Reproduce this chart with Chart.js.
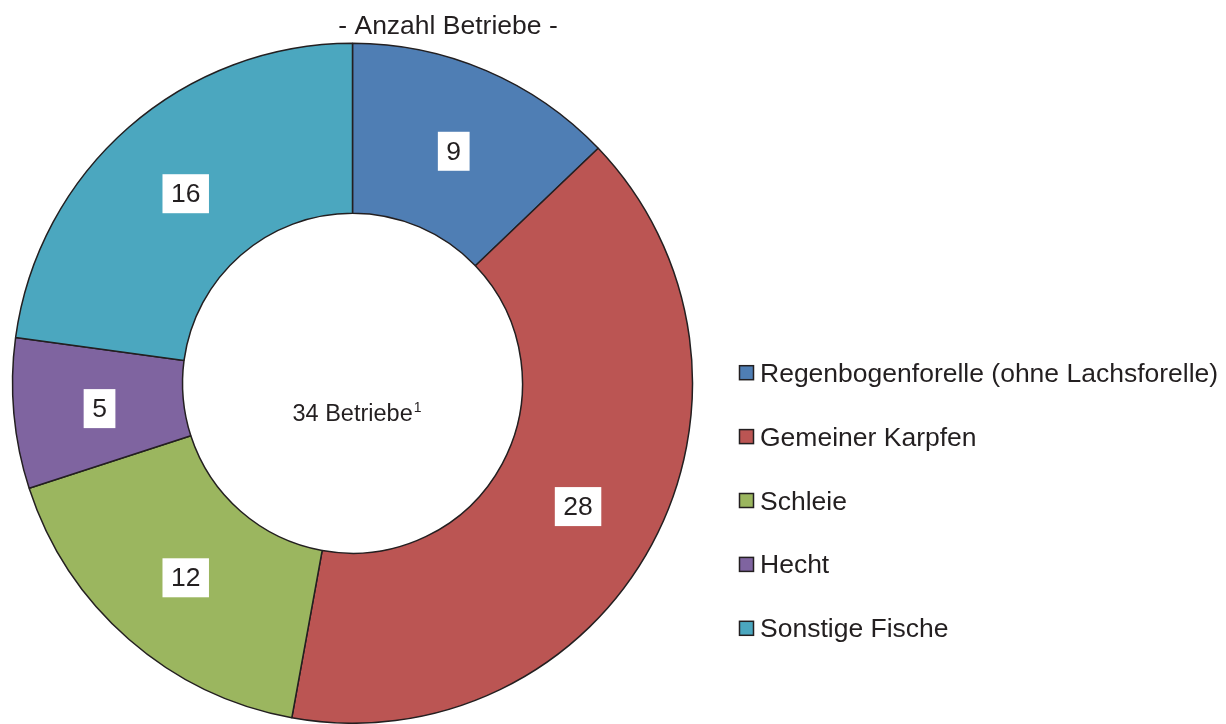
<!DOCTYPE html>
<html>
<head>
<meta charset="utf-8">
<script src="https://cdn.jsdelivr.net/npm/chart.js@4.4.1/dist/chart.umd.min.js"></script>
<style>
html,body{margin:0;padding:0;background:#fff;overflow:hidden;}
#wrap{position:relative;width:1226px;height:724px;}
canvas{display:block;}
</style>
</head>
<body>
<div id="wrap"><canvas id="c" width="1226" height="724"></canvas></div>
<script>
const categories = ["Regenbogenforelle (ohne Lachsforelle)", "Gemeiner Karpfen", "Schleie", "Hecht", "Sonstige Fische"];
const values = [9, 28, 12, 5, 16];
const colors = ["#4F7EB4", "#BB5553", "#9BB65F", "#7F64A0", "#4BA7BF"];
const titleText = "- Anzahl Betriebe -";
const centerText = "34 Betriebe";
const centerSup = "1";

const FONT = "'Liberation Sans', Arial, sans-serif";
const INK = "#231F20";

const labelPlugin = {
  id: 'extras',
  afterDraw(chart) {
    const ctx = chart.ctx;
    const meta = chart.getDatasetMeta(0);
    ctx.save();
    // value labels in white boxes
    ctx.font = "26.5px " + FONT;
    ctx.textAlign = 'center';
    ctx.textBaseline = 'middle';
    meta.data.forEach((arc, i) => {
      const p = arc.tooltipPosition();
      const x = p.x + 1, y = p.y + 2.5;
      const txt = String(values[i]);
      const w = ctx.measureText(txt).width + 17;
      const h = 39;
      ctx.fillStyle = '#fff';
      ctx.fillRect(x - w / 2, y - h / 2, w, h);
      ctx.fillStyle = INK;
      ctx.fillText(txt, x, y + 1);
    });
    // center text
    const cx = meta.data[0].x, cy = meta.data[0].y;
    ctx.textBaseline = 'alphabetic';
    ctx.font = "23.5px " + FONT;
    const tw = ctx.measureText(centerText).width;
    ctx.font = "14px " + FONT;
    const sw = ctx.measureText(centerSup).width;
    const startX = cx - (tw + sw) / 2 + 4;
    ctx.textAlign = 'left';
    ctx.font = "23.5px " + FONT;
    ctx.fillStyle = INK;
    ctx.fillText(centerText, startX, cy + 38);
    ctx.font = "14px " + FONT;
    ctx.fillText(centerSup, startX + tw + 1, cy + 29);
    // title
    ctx.font = "26.5px " + FONT;
    ctx.textAlign = 'center';
    ctx.fillText(titleText, 448, 34);
    // legend
    ctx.textAlign = 'left';
    categories.forEach((name, i) => {
      const yc = 372.7 + i * 63.9;
      ctx.fillStyle = colors[i];
      ctx.fillRect(739.5, yc - 7, 14, 14);
      ctx.strokeStyle = INK;
      ctx.lineWidth = 1.5;
      ctx.strokeRect(739.5, yc - 7, 14, 14);
      ctx.fillStyle = INK;
      ctx.font = "26.5px " + FONT;
      ctx.fillText(name, 760, yc + 9);
    });
    ctx.restore();
  }
};

new Chart(document.getElementById('c'), {
  type: 'doughnut',
  data: {
    labels: categories,
    datasets: [{
      data: values,
      backgroundColor: colors,
      borderColor: INK,
      borderWidth: 1.5,
      borderAlign: 'center'
    }]
  },
  options: {
    responsive: false,
    animation: false,
    events: [],
    cutout: '50%',
    rotation: 0,
    layout: { padding: { top: 42.5, bottom: 0, left: 11, right: 532 } },
    plugins: {
      legend: { display: false },
      title: { display: false },
      tooltip: { enabled: false }
    }
  },
  plugins: [labelPlugin]
});
</script>
</body>
</html>
